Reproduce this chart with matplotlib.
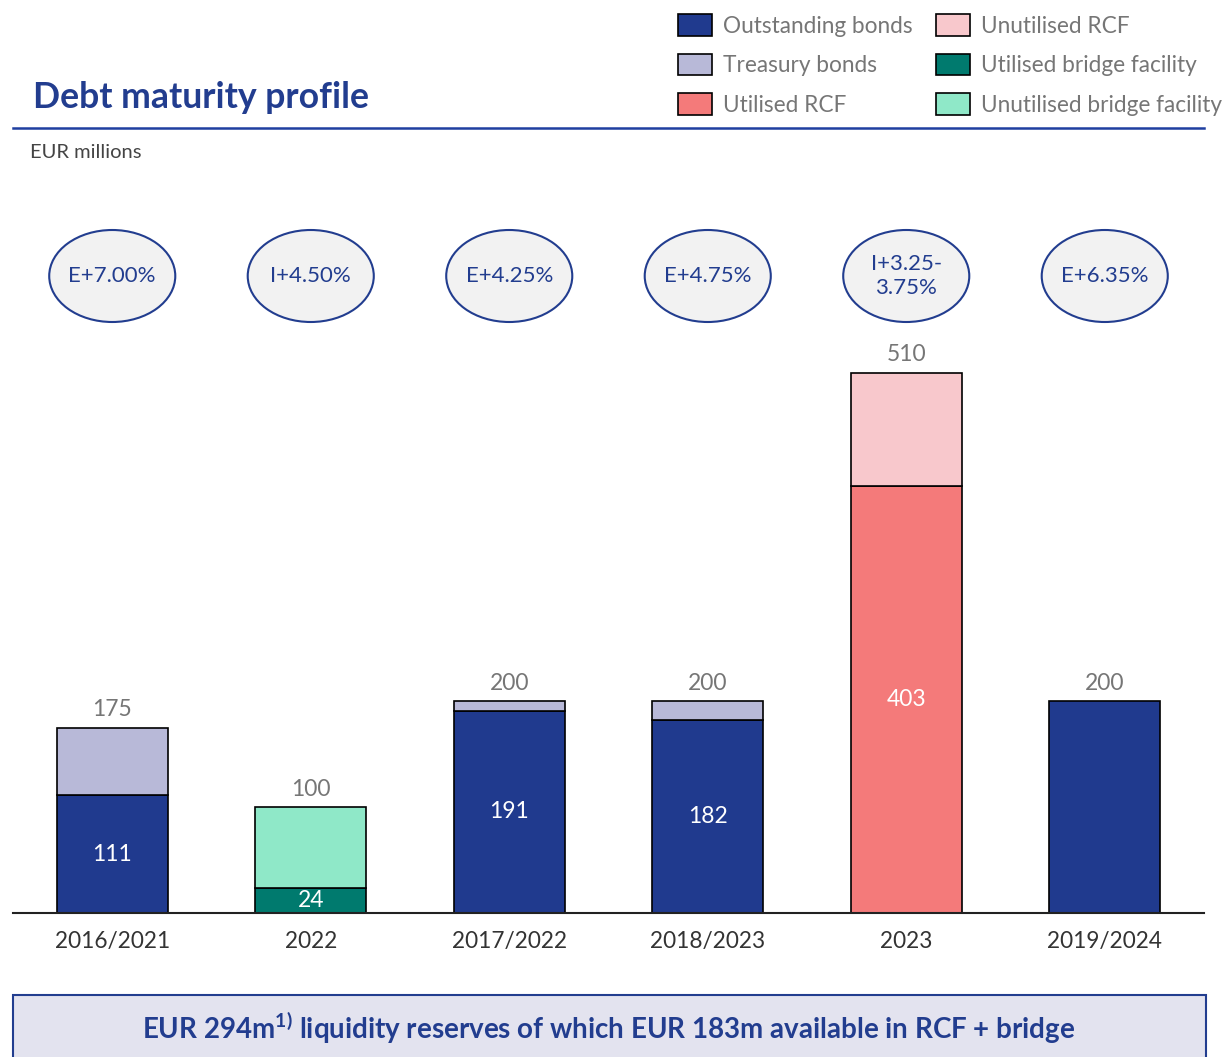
import numpy as np
import matplotlib.pyplot as plt
from matplotlib.patches import Ellipse, Rectangle, Patch
from matplotlib.transforms import blended_transform_factory

plt.rcParams['font.family'] = ['Lato', 'DejaVu Sans']
plt.rcParams['mathtext.fontset'] = 'custom'
plt.rcParams['mathtext.bf'] = 'Lato:bold'
plt.rcParams['mathtext.rm'] = 'Lato'

# data
categories = ['2016/2021', '2022', '2017/2022', '2018/2023', '2023', '2019/2024']
rates = ['E+7.00%', 'I+4.50%', 'E+4.25%', 'E+4.75%', 'I+3.25-\n3.75%', 'E+6.35%']
outstanding = [111, 0, 191, 182, 0, 200]
treasury = [64, 0, 9, 18, 0, 0]
utilised_rcf = [0, 0, 0, 0, 403, 0]
unutilised_rcf = [0, 0, 0, 0, 107, 0]
utilised_bridge = [0, 24, 0, 0, 0, 0]
unutilised_bridge = [0, 76, 0, 0, 0, 0]
inner_shown = [True, True, True, True, True, False]

series = [
    ('Outstanding bonds', outstanding, '#203a8e'),
    ('Treasury bonds', treasury, '#b8b9d8'),
    ('Utilised RCF', utilised_rcf, '#f47a7a'),
    ('Unutilised RCF', unutilised_rcf, '#f8c8cc'),
    ('Utilised bridge facility', utilised_bridge, '#007a6e'),
    ('Unutilised bridge facility', unutilised_bridge, '#8fe8c8'),
]
# stacking pairs: (bottom series, top series)
pairs = [(0, 1), (2, 3), (4, 5)]

DARK = '#223d8f'
GREY = '#767676'

W, H = 1229, 1057
fig = plt.figure(figsize=(W / 100, H / 100), dpi=100)

ax = fig.add_axes([13 / W, (H - 913) / H, 1191 / W, 583 / H])
x = np.arange(len(categories))
bw = 0.56

for b, t in pairs:
    bot_vals = np.array(series[b][1])
    top_vals = np.array(series[t][1])
    m = bot_vals > 0
    ax.bar(x[m], bot_vals[m], bw, color=series[b][2], edgecolor='black', linewidth=1.2, zorder=2)
    m2 = top_vals > 0
    ax.bar(x[m2], top_vals[m2], bw, bottom=bot_vals[m2], color=series[t][2],
           edgecolor='black', linewidth=1.2, zorder=2)
    # white labels inside bottom segment
    for i in np.where(m)[0]:
        if inner_shown[i]:
            ax.text(x[i], bot_vals[i] / 2, f'{bot_vals[i]}', ha='center', va='center',
                    color='white', fontsize=16.5)

totals = np.sum([s[1] for s in series], axis=0)
for i, tot in enumerate(totals):
    ax.text(x[i], tot + 7, f'{tot}', ha='center', va='bottom', color=GREY, fontsize=16.5)

ax.set_xlim(-0.5, 5.5)
ax.set_ylim(0, 550.5)
for s in ['top', 'right', 'left']:
    ax.spines[s].set_visible(False)
ax.spines['bottom'].set_linewidth(1.5)
ax.spines['bottom'].set_color('#222222')
ax.set_yticks([])
ax.set_xticks(x)
ax.set_xticklabels(categories, fontsize=16.3, color='#333333')
ax.tick_params(axis='x', length=0, pad=13)

# rate ellipses
tr = blended_transform_factory(ax.transData, fig.transFigure)
for i, r in enumerate(rates):
    e = Ellipse((x[i], (H - 276) / H), 126 / 198.4, 92 / H, transform=tr,
                facecolor='#f2f2f2', edgecolor=DARK, linewidth=1.5, clip_on=False)
    fig.add_artist(e)
    fig.text(x[i], (H - 276) / H, r, transform=tr, ha='center', va='center',
             color=DARK, fontsize=16, linespacing=1.25)

# title and rule
fig.text(33 / W, (H - 98) / H, 'Debt maturity profile', fontsize=25.7, fontweight='bold',
         color=DARK, va='center', ha='left')
fig.add_artist(plt.Line2D([13 / W, 1204 / W], [(H - 128) / H] * 2, color='#1f3fa0', linewidth=1.8))
fig.text(30 / W, (H - 153) / H, 'EUR millions', fontsize=14.5, color='#444444', va='center')

# legend
handles = [Patch(facecolor=c, edgecolor='black', linewidth=1.2) for _, _, c in series]
labels = [name for name, _, _ in series]
fig.legend(handles, labels, ncol=2, loc='upper left', bbox_to_anchor=(678 / W, (H - 14) / H),
           frameon=False, fontsize=16.3, handlelength=1.5, handleheight=1.1,
           labelspacing=0.75, columnspacing=1.03, handletextpad=0.5,
           borderpad=0, borderaxespad=0, labelcolor=GREY)

# bottom banner
fig.add_artist(Rectangle((13 / W, -0.01), 1193 / W, (H - 995) / H + 0.01, transform=fig.transFigure,
                         facecolor='#e3e3ef', edgecolor=DARK, linewidth=1.5))
fig.text(609 / W, (H - 1028) / H,
         r'EUR 294m$^{\mathbf{1)}}$ liquidity reserves of which EUR 183m available in RCF + bridge',
         ha='center', va='center', fontsize=20, fontweight='bold', color=DARK)

fig.savefig('out.png', dpi=100)
